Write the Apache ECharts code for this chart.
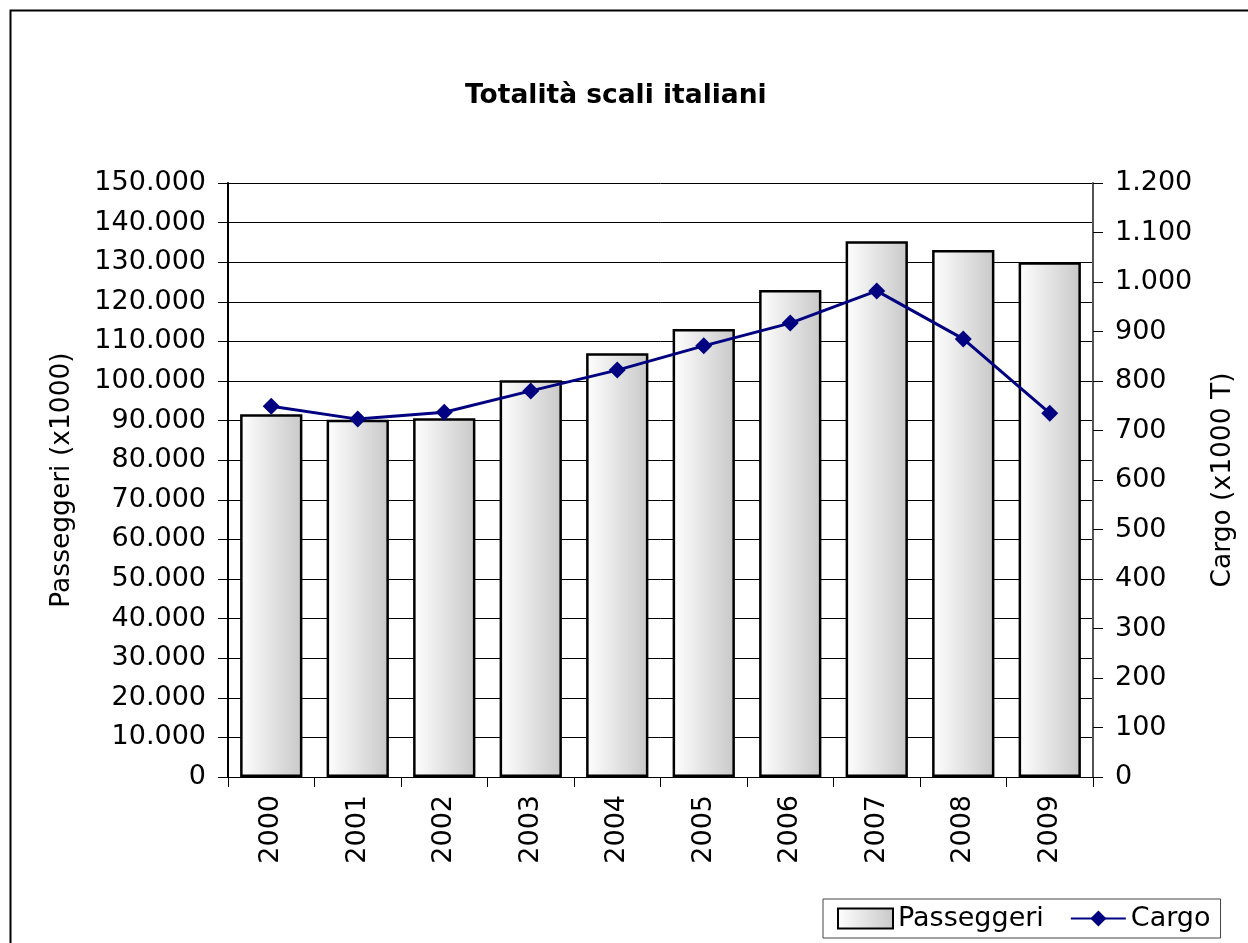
<!DOCTYPE html>
<html>
<head>
<meta charset="utf-8">
<script src="https://cdn.jsdelivr.net/npm/echarts@6/dist/echarts.min.js"></script>
<style>
  html, body { margin: 0; padding: 0; background: #fff; }
  #chart { width: 1248px; height: 943px; }
</style>
</head>
<body>
<div id="chart"></div>
<script>
// data
const years = ['2000', '2001', '2002', '2003', '2004', '2005', '2006', '2007', '2008', '2009'];
const passeggeri = [91600, 90200, 90600, 100200, 107000, 113100, 123000, 135300, 133100, 130000];
const cargo = [749, 723, 737, 780, 822, 871, 917, 982, 885, 735];

const fontFamily = 'DejaVu Sans, Verdana, sans-serif';
const fmt = v => String(v).replace(/\B(?=(\d{3})+(?!\d))/g, '.');

const barFill = new echarts.graphic.LinearGradient(0, 0, 1, 0, [
    { offset: 0, color: '#ffffff' },
    { offset: 1, color: '#c8c8c8' }
]);

const chart = echarts.init(document.getElementById('chart'));

chart.setOption({
    backgroundColor: '#fff',
    animation: false,
    textStyle: { fontFamily: fontFamily },
    graphic: [{
        type: 'rect',
        shape: { x: 10.5, y: 10.5, width: 1260, height: 960 },
        style: { fill: 'none', stroke: '#000', lineWidth: 2 },
        silent: true
    }],
    title: {
        text: 'Totalità scali italiani',
        left: 460,
        top: 78,
        textStyle: { fontSize: 26.5, fontWeight: 'bold', color: '#000', fontFamily: fontFamily }
    },
    legend: {
        left: 823,
        top: 899,
        padding: [6, 10, 6, 14],
        borderColor: '#444',
        borderWidth: 1,
        itemWidth: 55,
        itemHeight: 20,
        itemGap: 26,
        textStyle: { fontSize: 27, color: '#000', padding: [0, 0, 0, 0] },
        data: [
            { name: 'Passeggeri', icon: 'rect' },
            { name: 'Cargo' }
        ]
    },
    grid: { left: 228, right: 155, top: 183, bottom: 166 },
    xAxis: {
        type: 'category',
        data: years,
        axisLine: { lineStyle: { color: '#000', width: 1 } },
        axisTick: { show: true, length: 10, lineStyle: { color: '#000' } },
        axisLabel: { rotate: 90, fontSize: 27, color: '#000', margin: 18 }
    },
    yAxis: [{
        type: 'value',
        min: 0,
        max: 150000,
        interval: 10000,
        name: 'Passeggeri (x1000)',
        nameLocation: 'middle',
        nameRotate: 90,
        nameGap: 152,
        nameTextStyle: { fontSize: 26.5, color: '#000' },
        axisLine: { show: true, lineStyle: { color: '#000', width: 2 } },
        axisTick: { show: true, length: 10, lineStyle: { color: '#000' } },
        axisLabel: { fontSize: 27, color: '#000', margin: 22, formatter: fmt },
        splitLine: { show: true, lineStyle: { color: '#000', width: 1 } }
    }, {
        type: 'value',
        min: 0,
        max: 1200,
        interval: 100,
        name: 'Cargo (x1000 T)',
        nameLocation: 'middle',
        nameRotate: 90,
        nameGap: 117,
        nameTextStyle: { fontSize: 26.5, color: '#000' },
        axisLine: { show: true, lineStyle: { color: '#555', width: 2 } },
        axisTick: { show: true, length: 10, lineStyle: { color: '#000' } },
        axisLabel: { fontSize: 27, color: '#000', margin: 22, formatter: fmt },
        splitLine: { show: false }
    }],
    series: [{
        name: 'Passeggeri',
        type: 'bar',
        data: passeggeri,
        yAxisIndex: 0,
        barWidth: '72%',
        itemStyle: { color: barFill, borderColor: '#000', borderWidth: 2.5 }
    }, {
        name: 'Cargo',
        type: 'line',
        data: cargo,
        yAxisIndex: 1,
        symbol: 'diamond',
        symbolSize: 17,
        itemStyle: { color: '#000080' },
        lineStyle: { color: '#000080', width: 3 }
    }]
});
</script>
</body>
</html>
